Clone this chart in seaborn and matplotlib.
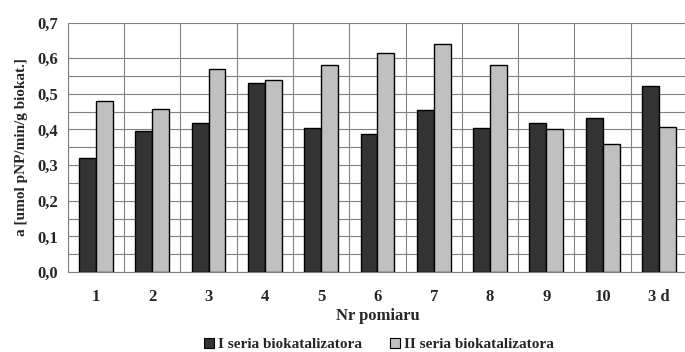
import numpy as np
import pandas as pd
import matplotlib
matplotlib.use("Agg")
import matplotlib.pyplot as plt
import seaborn as sns
from matplotlib.ticker import FixedLocator, FuncFormatter
from matplotlib.patches import Patch

# pomiary
pomiary = ["1", "2", "3", "4", "5", "6", "7", "8", "9", "10", "3 d"]
seria_1 = [0.319, 0.395, 0.418, 0.529, 0.404, 0.387, 0.455, 0.404, 0.418, 0.431, 0.522]
seria_2 = [0.479, 0.458, 0.570, 0.540, 0.580, 0.614, 0.641, 0.580, 0.400, 0.360, 0.406]
serie = ["I seria biokatalizatora", "II seria biokatalizatora"]
kolory = ["#333333", "#c0c0c0"]

df = pd.DataFrame({
    "pomiar": pomiary * 2,
    "a": seria_1 + seria_2,
    "seria": [serie[0]] * len(pomiary) + [serie[1]] * len(pomiary),
})

sns.set_style("white")
plt.rcParams["font.family"] = ["Liberation Serif", "DejaVu Serif"]
plt.rcParams["font.weight"] = "bold"

fig = plt.figure(figsize=(6.85, 3.52), dpi=100)
ax = fig.add_axes([0.099, 0.227, 0.904, 0.709])

sns.barplot(data=df, x="pomiar", y="a", hue="seria", order=pomiary, hue_order=serie,
            palette=dict(zip(serie, kolory)), width=0.6, saturation=1,
            edgecolor="black", linewidth=1.0, legend=False, ax=ax, zorder=3)

ax.set_ylim(0, 0.7)
ax.set_xlim(-0.5, len(pomiary) - 0.5)
ax.yaxis.set_major_locator(FixedLocator(np.round(np.arange(0, 0.71, 0.1), 2)))
ax.yaxis.set_minor_locator(FixedLocator(np.round(np.arange(0.05, 0.6, 0.1), 2)))
ax.yaxis.set_major_formatter(FuncFormatter(lambda v, p: f"{v:.1f}".replace(".", ",")))
ax.xaxis.set_minor_locator(FixedLocator(np.arange(-0.5, len(pomiary), 1.0)))

ax.grid(True, which="major", axis="y", color="#808080", linewidth=0.8, zorder=0)
ax.grid(True, which="minor", axis="both", color="#808080", linewidth=0.8, zorder=0)
ax.set_axisbelow(True)

ax.tick_params(axis="y", which="major", length=4, color="#808080", labelsize=12, pad=3)
ax.tick_params(axis="y", which="minor", length=0)
ax.tick_params(axis="x", which="major", length=0, labelsize=12, pad=12)
ax.tick_params(axis="x", which="minor", length=4, color="#808080")
for lab in ax.get_xticklabels() + ax.get_yticklabels():
    lab.set_fontweight("bold")

for s in ["top", "right"]:
    ax.spines[s].set_visible(False)
for s in ["left", "bottom"]:
    ax.spines[s].set_color("#808080")
    ax.spines[s].set_linewidth(0.8)

ax.set_xlabel("Nr pomiaru", fontsize=12, fontweight="bold", labelpad=2)
ax.set_ylabel("a [umol pNP/min/g biokat.]", fontsize=11, fontweight="bold", labelpad=7)

uchwyty = [Patch(facecolor=c, edgecolor="black", linewidth=0.8) for c in kolory]
fig.legend(uchwyty, serie, loc="center", bbox_to_anchor=(0.553, 0.022), ncol=2,
           frameon=False, handlelength=0.65, handleheight=0.65, handletextpad=0.3,
           columnspacing=1.8, prop={"size": 11, "weight": "bold"})

fig.savefig("out.png", dpi=100)
